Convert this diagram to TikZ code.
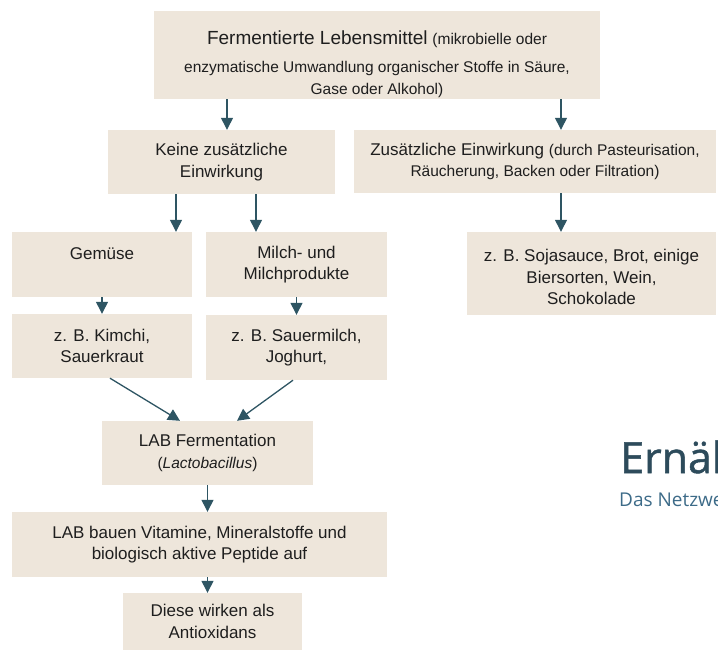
\documentclass[tikz,border=0pt]{standalone}
\usepackage{fontspec}
\setmainfont{Liberation Sans}
\newfontfamily\brandfont[FakeBold=1.2]{Open Sans}
\newfontfamily\brandsubfont{Open Sans}
\usetikzlibrary{arrows.meta}
\definecolor{boxfill}{HTML}{EEE6DB}
\definecolor{ink}{HTML}{1E1E1E}
\definecolor{arrowc}{HTML}{2E5563}
\definecolor{brand}{HTML}{2D4B5B}
\definecolor{brandsub}{HTML}{3D6B88}
\newcommand{\boxfont}{\fontsize{17}{21.5}\selectfont}
\newcommand{\notefont}{\fontsize{15.5}{18.5}\selectfont}
\tikzset{
  box/.style={fill=boxfill, draw=none, text=ink, align=center, inner sep=0pt, font=\boxfont},
  arr/.style={-{Triangle[width=12pt,length=12pt]}, line width=1.3pt, draw=arrowc}
}

\begin{document}
\begin{tikzpicture}[x=1pt,y=-1pt]
  \useasboundingbox (0,0) rectangle (718,651);
  % boxes
  \node[box, minimum width=446pt, minimum height=88pt] (ferm) at (377,55)
    {\rule{0pt}{32pt}{\fontsize{19}{23}\selectfont Fermentierte Lebensmittel} {\notefont(mikrobielle oder}\\[7pt]
     \notefont enzymatische Umwandlung organischer Stoffe in Säure,\\ \notefont Gase oder Alkohol)};
  \node[box, minimum width=227pt, minimum height=64pt] (keine) at (221.5,162)
    {Keine zusätzliche\\ Einwirkung};
  \node[box, minimum width=362pt, minimum height=63pt] (zus) at (535,161.5)
    {Zusätzliche Einwirkung {\notefont(durch Pasteurisation,}\\ \notefont Räucherung, Backen oder Filtration)};
  \node[box, minimum width=180pt, minimum height=65pt] (gem) at (102,264.5)
    {Gemüse\\ \phantom{x}};
  \node[box, minimum width=181pt, minimum height=65pt] (milch) at (296.5,264.5)
    {Milch- und\\ Milchprodukte};
  \node[box, minimum width=180pt, minimum height=64pt] (kimchi) at (102,346)
    {z. B. Kimchi,\\ Sauerkraut};
  \node[box, minimum width=181pt, minimum height=65pt] (sauer) at (296.5,347.5)
    {z. B. Sauermilch,\\ Joghurt,};
  \node[box, minimum width=249pt, minimum height=83pt] (soja) at (591.5,273.5)
    {\rule{0pt}{20pt}z. B. Sojasauce, Brot, einige\\ Biersorten, Wein,\\ Schokolade};
  \node[box, minimum width=211pt, minimum height=64pt] (lab) at (207.5,453)
    {LAB Fermentation\\ \notefont(\textit{Lactobacillus})};
  \node[box, minimum width=375pt, minimum height=65pt] (vit) at (199.5,544.5)
    {LAB bauen Vitamine, Mineralstoffe und\\ biologisch aktive Peptide auf};
  \node[box, minimum width=179pt, minimum height=57pt] (anti) at (212.5,621.5)
    {Diese wirken als\\ Antioxidans};

  % arrows
  \draw[arr] ([xshift=-150pt]ferm.south) -- ([xshift=-150pt]ferm.south |- keine.north);
  \draw[arr] ([xshift=184pt]ferm.south) -- ([xshift=184pt]ferm.south |- zus.north);
  \draw[arr] ([xshift=-45.5pt]keine.south) -- ([xshift=-45.5pt]keine.south |- gem.north);
  \draw[arr] ([xshift=34.5pt]keine.south) -- ([xshift=34.5pt]keine.south |- milch.north);
  \draw[arr] ([xshift=26pt]zus.south) -- ([xshift=26pt]zus.south |- soja.north);
  \draw[arr] (gem) -- (kimchi);
  \draw[arr] (milch) -- (sauer);
  \draw[arr] ([xshift=8pt]kimchi.south) -- ([xshift=-27.5pt]lab.north);
  \draw[arr] ([xshift=-3.5pt]sauer.south) -- ([xshift=29.5pt]lab.north);
  \draw[arr] (lab.south) -- (lab.south |- vit.north);
  \draw[arr] (vit.south -| lab.south) -- (anti.north -| lab.south);

  % logo, cut at the page edge
  \begin{scope}
    \clip (0,0) rectangle (718,651);
    \node[anchor=base west, inner sep=0pt, text=brand, font=\brandfont\fontsize{43}{50}\selectfont] (logo) at (620,473) {Ernährung};
    \node[anchor=base west, inner sep=0pt, text=brandsub, font=\brandsubfont\fontsize{19}{22}\selectfont] (logosub) at (619,506) {Das Netzwerk};
  \end{scope}
\end{tikzpicture}
\end{document}
